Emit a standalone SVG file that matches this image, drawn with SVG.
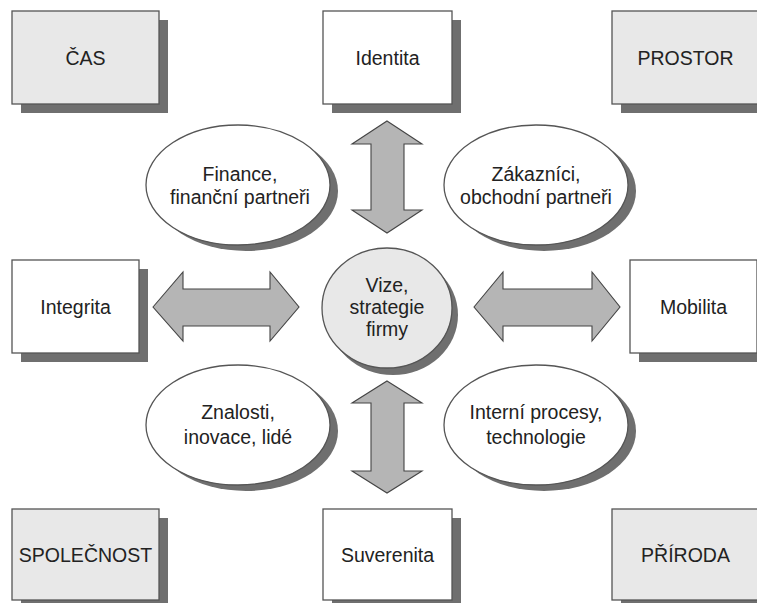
<svg xmlns="http://www.w3.org/2000/svg" width="757" height="603" viewBox="0 0 757 603">
<style>
.sh{fill:#6f6f6f}
.box{stroke:#555;stroke-width:1.3}
.g{fill:#e8e8e8}
.w{fill:#fff}
.arr{fill:#b5b5b5;stroke:#444;stroke-width:1.1;stroke-linejoin:miter}
text{font-family:"Liberation Sans",Arial,sans-serif;font-size:19.5px;fill:#222;text-anchor:middle}
</style>
<rect width="757" height="603" fill="#fff"/>
<g id="cas"><rect class="sh" x="21" y="20" width="147" height="93"/><rect class="box g" x="12" y="11" width="147" height="93"/><text x="85.5" y="65">ČAS</text></g>
<g id="identita"><rect class="sh" x="332" y="20" width="129" height="93"/><rect class="box w" x="323" y="11" width="129" height="93"/><text x="387.5" y="65">Identita</text></g>
<g id="prostor"><rect class="sh" x="621" y="20" width="147" height="93"/><rect class="box g" x="612" y="11" width="147" height="93"/><text x="685.5" y="65">PROSTOR</text></g>
<g id="integrita"><rect class="sh" x="21" y="269" width="127" height="93"/><rect class="box w" x="12" y="260" width="127" height="93"/><text x="75.5" y="314">Integrita</text></g>
<g id="mobilita"><rect class="sh" x="639" y="269" width="127" height="93"/><rect class="box w" x="630" y="260" width="127" height="93"/><text x="693.5" y="314">Mobilita</text></g>
<g id="spolecnost"><rect class="sh" x="21" y="518" width="147" height="91"/><rect class="box g" x="12" y="509" width="147" height="91"/><text x="85.5" y="562">SPOLEČNOST</text></g>
<g id="suverenita"><rect class="sh" x="332" y="518" width="129" height="91"/><rect class="box w" x="323" y="509" width="129" height="91"/><text x="387.5" y="562">Suverenita</text></g>
<g id="priroda"><rect class="sh" x="621" y="518" width="147" height="91"/><rect class="box g" x="612" y="509" width="147" height="91"/><text x="685.5" y="562">PŘÍRODA</text></g>
<g id="finance"><ellipse class="sh" cx="246" cy="191" rx="92" ry="60"/><ellipse class="box w" cx="238" cy="185" rx="92" ry="60"/><text x="240" y="181">Finance,</text><text x="240" y="204">finanční partneři</text></g>
<g id="zakaznici"><ellipse class="sh" cx="544" cy="191" rx="92" ry="60"/><ellipse class="box w" cx="536" cy="185" rx="92" ry="60"/><text x="536" y="181">Zákazníci,</text><text x="536" y="204">obchodní partneři</text></g>
<g id="vize"><ellipse class="sh" cx="393" cy="315" rx="65" ry="60"/><ellipse class="box g" cx="387" cy="308" rx="65" ry="60"/><text x="387" y="292">Vize,</text><text x="387" y="314">strategie</text><text x="387" y="336">firmy</text></g>
<g id="znalosti"><ellipse class="sh" cx="246" cy="431" rx="92" ry="60"/><ellipse class="box w" cx="238" cy="425" rx="92" ry="60"/><text x="238" y="419">Znalosti,</text><text x="238" y="444">inovace, lidé</text></g>
<g id="interni"><ellipse class="sh" cx="544" cy="431" rx="92" ry="60"/><ellipse class="box w" cx="536" cy="425" rx="92" ry="60"/><text x="536" y="419">Interní procesy,</text><text x="536" y="444">technologie</text></g>
<g id="connectors">
<polygon class="arr" points="387,121 422,144 404,144 404,210 422,210 387,233 352,210 371,210 371,144 352,144"/>
<polygon class="arr" points="387,381 422,403 404,403 404,471 422,471 387,493 352,471 371,471 371,403 352,403"/>
<polygon class="arr" points="153,307 183,272 183,289 270,289 270,272 299,307 270,341 270,326 183,326 183,341"/>
<polygon class="arr" points="474,307 503,272 503,289 592,289 592,272 620,307 592,341 592,326 503,326 503,341"/>
</g>
</svg>
